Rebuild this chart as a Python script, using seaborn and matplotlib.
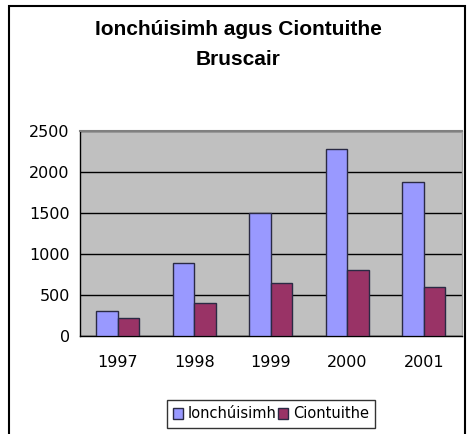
import pandas as pd
import matplotlib.pyplot as plt
import matplotlib.patches as mpatches
import seaborn as sns

# Dữ liệu
years = ['1997', '1998', '1999', '2000', '2001']
ionchuisimh = [310, 895, 1500, 2275, 1875]
ciontuithe = [225, 400, 645, 800, 600]
series_names = ['Ionchúisimh', 'Ciontuithe']
colors = ['#9999FF', '#993366']
yticks = [0, 500, 1000, 1500, 2000, 2500]

df = pd.DataFrame({
    'year': years * 2,
    'value': ionchuisimh + ciontuithe,
    'series': [series_names[0]] * len(years) + [series_names[1]] * len(years),
})

sns.set_style('white')
plt.rcParams['font.family'] = ['DejaVu Sans']
plt.rcParams['text.color'] = 'black'
plt.rcParams['xtick.color'] = 'black'
plt.rcParams['ytick.color'] = 'black'

fig = plt.figure(figsize=(4.7, 4.34), dpi=100)
ax = fig.add_axes([79.5 / 470, 1 - 336 / 434, 382.5 / 470, 205 / 434])
ax.set_facecolor('#C0C0C0')

sns.barplot(data=df, x='year', y='value', hue='series',
            palette=colors, saturation=1, width=0.56, gap=0,
            edgecolor='#2a2a44', linewidth=1, ax=ax, zorder=3)

# Lưới ngang và trục
ax.set_ylim(0, 2500)
ax.set_yticks(yticks)
ax.set_yticklabels([str(v) for v in yticks], fontsize=11.5)
ax.yaxis.grid(True, color='black', linewidth=1, zorder=1)
ax.set_axisbelow(True)
ax.set_xlim(-0.5, 4.5)
ax.set_xticks([i - 0.5 for i in range(len(years) + 1)])
ax.set_xticklabels([])
ax.set_xticks(range(len(years)), minor=True)
ax.set_xticklabels(years, minor=True, fontsize=11.5)
ax.tick_params(axis='x', which='major', direction='out', length=4, width=1, color='black')
ax.tick_params(axis='x', which='minor', length=0, pad=14)
ax.tick_params(axis='y', direction='out', length=4, width=1, color='black', pad=3)
ax.set_xlabel('')
ax.set_ylabel('')

for side in ['left', 'bottom']:
    ax.spines[side].set_color('black')
    ax.spines[side].set_linewidth(1)
ax.spines['top'].set_color('#808080')
ax.spines['top'].set_linewidth(1.5)
ax.spines['right'].set_color('#A0A0A0')
ax.spines['right'].set_linewidth(1)

# Chú giải
ax.get_legend().remove()
handles = [mpatches.Patch(facecolor=c, edgecolor='#2a2a44') for c in colors]
leg = fig.legend(handles, series_names, loc='center', ncol=2,
                 bbox_to_anchor=(271 / 470, 1 - 414 / 434), fontsize=10.5,
                 frameon=True, fancybox=False, handlelength=0.7, handleheight=0.7,
                 handletextpad=0.3, columnspacing=0.1, borderpad=0.45)
leg.get_frame().set_edgecolor('black')
leg.get_frame().set_linewidth(1)

# Tiêu đề
fig.text(238 / 470, 1 - 44.5 / 434, 'Ionchúisimh agus Ciontuithe\nBruscair',
         ha='center', va='center', fontsize=15, fontweight='bold',
         family='Liberation Sans', linespacing=1.7)

# Khung ngoài
fig.patches.append(mpatches.Rectangle((8.5 / 470, -0.1), 457 / 470, 1.1 - 5.5 / 434,
                                      transform=fig.transFigure, fill=False,
                                      edgecolor='black', linewidth=1.5))

plt.savefig('out.png', dpi=100)
plt.close()
